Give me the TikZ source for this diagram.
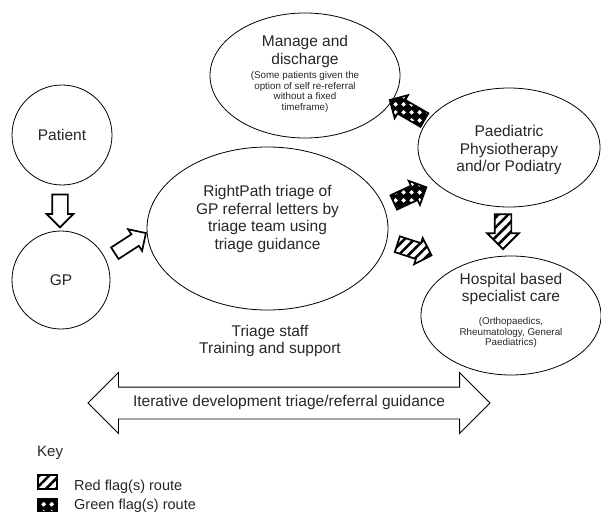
\documentclass[tikz,border=0pt]{standalone}
\usepackage{fontspec}
\setmainfont{Liberation Sans}
\usetikzlibrary{shapes.geometric,shapes.arrows,patterns,patterns.meta}

\tikzdeclarepattern{
  name=gflag,
  type=uncolored,
  bottom left={(0pt,0pt)},
  top right={(8pt,8pt)},
  tile size={(8pt,8pt)},
  code={
    \fill (4pt,1.4pt) -- (6.6pt,4pt) -- (4pt,6.6pt) -- (1.4pt,4pt) -- cycle;
  }
}

\begin{document}
\begin{tikzpicture}[x=1pt,y=1pt,
  txt/.style={text=black!85, align=center, inner sep=0pt, font=\fontsize{15.5}{17.4}\selectfont},
  smalltxt/.style={text=black!85, align=center, inner sep=0pt, font=\fontsize{9.8}{10.7}\selectfont},
  bubble/.style={draw, line width=0.8pt, ellipse, inner sep=0pt},
  roundbubble/.style={draw, line width=0.8pt, circle, inner sep=0pt},
  blk/.style n args={3}{single arrow, draw, line width=1.7pt, inner xsep=0pt,
      inner ysep=#2pt, minimum height=#1pt, single arrow head extend=#3pt,
      single arrow tip angle=90, fill=white},
  redflag/.style={pattern={Lines[angle=45,distance=7pt,line width=2.6pt]}, pattern color=black},
  greenflag/.style={preaction={fill=black}, pattern=gflag, pattern color=white}
]
\useasboundingbox (0,0) rectangle (601,515);

% main nodes
\node[roundbubble, minimum size=100pt] (patient) at (62,380) {};
\node[txt] (patientT) at (patient.center) {Patient};
\node[roundbubble, minimum size=98pt] (gp) at (61,235) {};
\node[txt] (gpT) at (gp.center) {GP};

\node[bubble, minimum width=241pt, minimum height=163pt] (triage) at (267.5,286.5) {};
\node[txt] (triageT) at (267.5,296) {RightPath triage of\\GP referral letters by\\triage team using\\triage guidance};

\node[bubble, minimum width=190pt, minimum height=125pt] (manage) at (305,439.5) {};
\node[txt] (manageT) at (305,463.5) {Manage and\\discharge};
\node[smalltxt] (manageS) at (305,423) {(Some patients given the\\option of self re-referral\\without a fixed\\timeframe)};

\node[bubble, minimum width=182pt, minimum height=119pt] (paed) at (509,367.5) {};
\node[txt] (paedT) at (509,365) {Paediatric\\Physiotherapy\\and/or Podiatry};

\node[bubble, minimum width=180pt, minimum height=119pt] (hosp) at (511,199.5) {};
\node[txt] (hospT) at (511,226) {Hospital based\\specialist care};
\node[smalltxt] (hospS) at (511,182.3) {(Orthopaedics,\\Rheumatology, General\\Paediatrics)};

% block arrows
\node[blk={33}{7}{5.5}, rotate=-90] (a1) at (60,308) {};
\node[blk={37}{6}{6}, rotate=33] (a2) at (127.5,270) {};
\node[blk={40}{7}{5.5}, rotate=150, greenflag] (a3) at (410.5,403) {};
\node[blk={36}{7}{5.5}, rotate=25, greenflag] (a4) at (406.5,318.5) {};
\node[blk={36}{7}{5.5}, rotate=-18, redflag] (a5) at (410.5,266.5) {};
\node[blk={35}{7.5}{7.5}, rotate=-90, redflag] (a6) at (503,287.5) {};

% training text
\node[txt] (train) at (270,174) {Triage staff\\Training and support};

% big double arrow
\node[double arrow, draw, line width=0.8pt, minimum height=402pt, inner xsep=0pt,
      inner ysep=9.5pt, text height=9pt, text depth=3pt, double arrow head extend=14.5pt,
      double arrow tip angle=90, text=black!85, font=\fontsize{15.5}{17.4}\selectfont]
      (iter) at (289,112) {Iterative development triage/referral guidance};

% key
\node[anchor=west, inner sep=0pt, text=black!85, font=\fontsize{15}{17}\selectfont] (key) at (37,62) {Key};
\node[draw, line width=1.5pt, minimum width=19pt, minimum height=14pt, inner sep=0pt, redflag] (kred) at (47.5,33) {};
\node[draw, line width=1.5pt, minimum width=19pt, minimum height=13pt, inner sep=0pt, greenflag] (kgreen) at (47.5,10) {};
\node[anchor=west, inner sep=0pt, text=black!85, font=\fontsize{14.5}{17}\selectfont] (kredT) at (74,28) {Red flag(s) route};
\node[anchor=west, inner sep=0pt, text=black!85, font=\fontsize{14.5}{17}\selectfont] (kgreenT) at (74,9) {Green flag(s) route};
\end{tikzpicture}
\end{document}
